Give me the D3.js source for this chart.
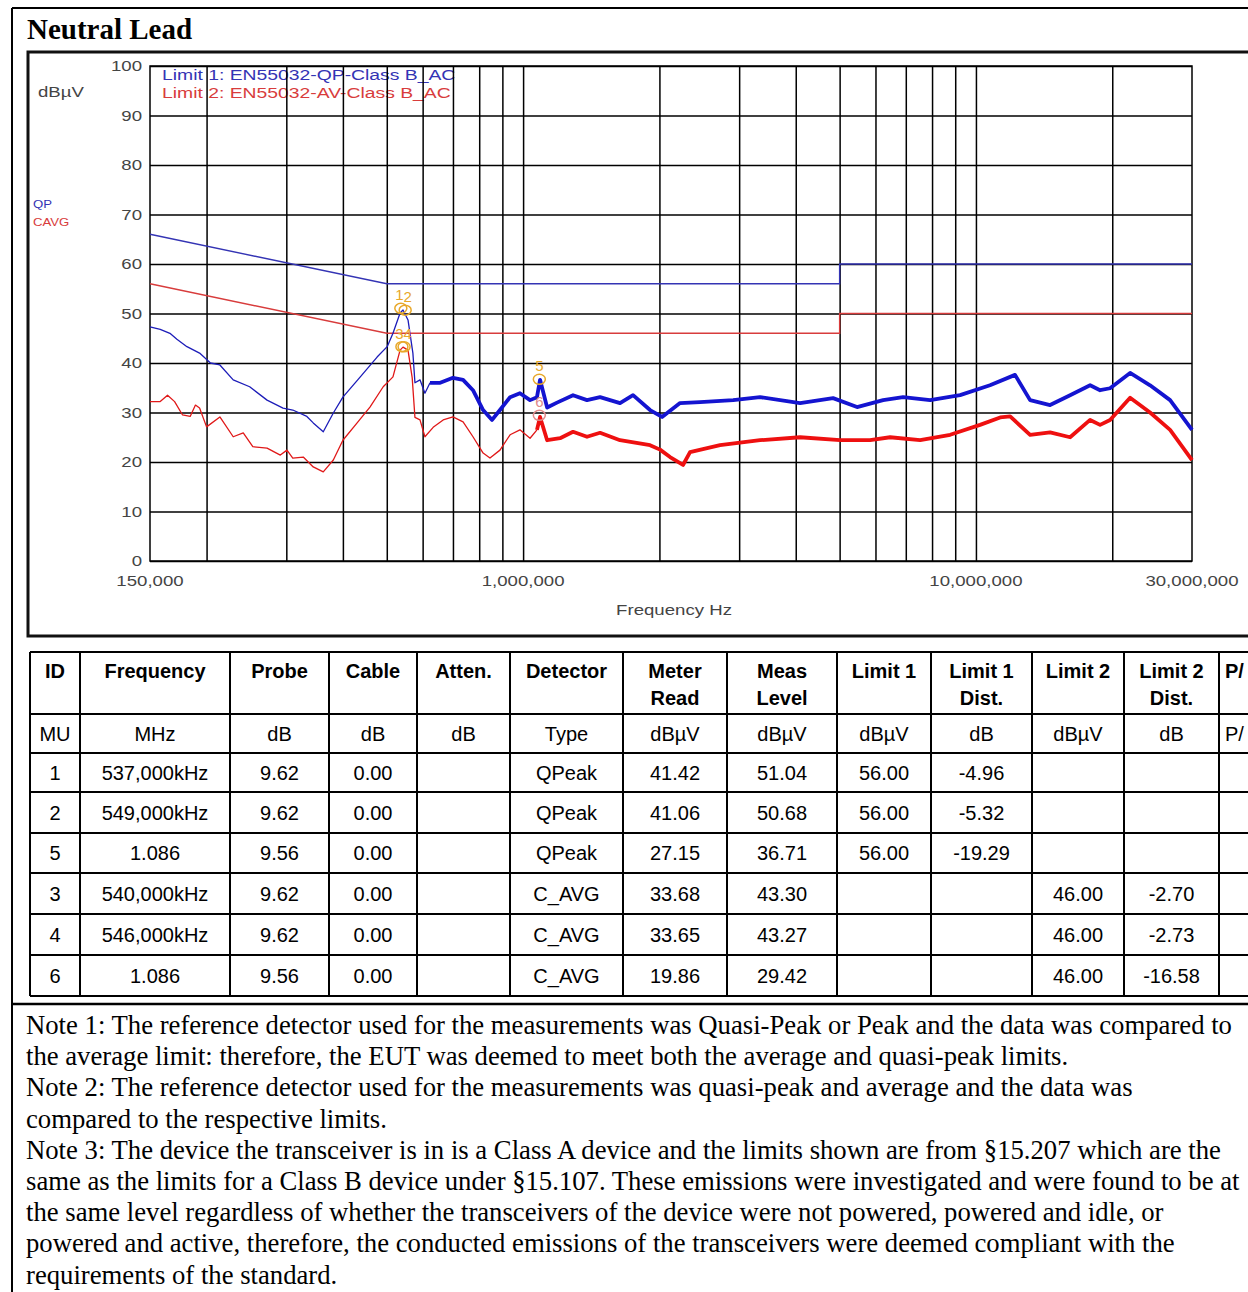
<!DOCTYPE html>
<html>
<head>
<meta charset="utf-8">
<script src="https://cdn.jsdelivr.net/npm/d3@7"></script>
<style>
body{margin:0;background:#fff;}
</style>
</head>
<body>
<div id="chart"></div>
<script>
// QP trace (MHz, dBuV) - thin part and noisy thick part
var qpThin = [[0.150,47.3],[0.158,46.8],[0.166,46.0],[0.172,44.8],[0.181,43.3],[0.193,42.0],[0.204,40.0],[0.214,39.6],[0.229,36.6],[0.249,35.2],
  [0.272,32.5],[0.295,30.9],[0.310,30.5],[0.333,29.2],[0.344,27.9],[0.362,26.1],[0.381,29.9],[0.400,33.1],[0.437,37.2],
  [0.476,41.2],[0.501,43.3],[0.516,46.0],[0.535,50.1],[0.543,50.7],[0.557,48.7],[0.571,42.0],[0.577,36.0],[0.592,36.6],
  [0.607,33.9],[0.623,36.0]];
var qpThick = [[0.623,36.0],[0.656,36.0],[0.700,37.0],[0.737,36.6],[0.775,34.5],[0.816,30.5],[0.854,28.5],[0.889,30.5],
  [0.936,33.1],[0.984,33.9],[1.036,32.5],[1.073,33.1],[1.090,36.6],[1.130,31.0],[1.188,32.0],[1.289,33.5],[1.384,32.5],
  [1.479,33.1],[1.637,31.9],[1.749,33.5],[1.907,30.5],[2.027,29.1],[2.221,31.9],[2.459,32.1],[2.910,32.5],[3.336,33.1],
  [4.089,31.9],[4.836,32.9],[5.463,31.1],[6.237,32.5],[6.905,33.1],[7.922,32.5],[9.225,33.5],[10.74,35.5],[12.20,37.6],
  [13.17,32.5],[14.58,31.5],[16.14,33.5],[17.87,35.5],[18.80,34.5],[19.78,34.9],[21.90,38.0],[24.24,35.5],[26.84,32.5],
  [30.0,26.5]];
// CAVG trace
var avThin = [[0.150,32.2],[0.158,32.2],[0.164,33.5],[0.170,32.2],[0.177,29.5],[0.184,29.2],[0.189,31.5],[0.193,30.9],
  [0.200,27.1],[0.214,29.1],[0.229,25.1],[0.241,25.9],[0.253,23.1],[0.272,22.8],[0.291,21.4],[0.301,22.4],[0.310,20.8],
  [0.327,21.0],[0.344,19.0],[0.362,18.0],[0.381,20.4],[0.400,24.4],[0.430,27.9],[0.459,31.1],[0.491,35.2],[0.516,37.2],
  [0.535,42.6],[0.543,43.2],[0.557,42.6],[0.569,37.0],[0.577,29.0],[0.592,28.5],[0.607,25.1],[0.633,27.0],[0.666,28.5],
  [0.700,29.1],[0.737,28.1],[0.775,25.1],[0.816,21.8],[0.845,20.8],[0.889,22.4],[0.936,25.5],[0.984,26.5],[1.036,24.8],
  [1.073,26.5]];
var avThick = [[1.073,26.5],[1.090,29.1],[1.130,24.4],[1.207,24.8],[1.289,26.1],[1.384,25.1],[1.479,25.9],[1.637,24.4],
  [1.907,23.4],[2.006,22.5],[2.111,21.0],[2.255,19.4],[2.337,22.0],[2.722,23.4],[3.336,24.4],[4.089,25.0],[5.012,24.4],
  [5.836,24.4],[6.463,25.0],[7.529,24.4],[8.772,25.5],[10.21,27.5],[11.31,29.0],[11.90,29.2],[13.17,25.5],[14.58,26.0],
  [16.14,25.0],[17.87,28.5],[18.80,27.5],[19.78,28.5],[21.90,33.0],[24.24,30.0],[26.84,26.5],[30.0,20.4]];

// limits
var limitQP = [[0.15,66],[0.5,56],[5,56],[5,60],[30,60]];
var limitAV = [[0.15,56],[0.5,46],[5,46],[5,50],[30,50]];

// markers
var markerIds = ["1","2","3","4","5","6"];
var markerFreq = [0.537,0.549,0.540,0.546,1.086,1.086];
var markerLevel = [51.04,50.68,43.30,43.27,36.71,29.42];

// axes
var yTicks = [0,10,20,30,40,50,60,70,80,90,100];
var xGrid = [0.2,0.3,0.4,0.5,0.6,0.7,0.8,0.9,1,2,3,4,5,6,7,8,9,10,20];
var xLabels = [[0.15,"150,000"],[1,"1,000,000"],[10,"10,000,000"],[30,"30,000,000"]];

// table
var tableHeader = [["ID"],["Frequency"],["Probe"],["Cable"],["Atten."],["Detector"],["Meter","Read"],["Meas","Level"],
  ["Limit 1"],["Limit 1","Dist."],["Limit 2"],["Limit 2","Dist."],["P/"]];
var tableUnits = ["MU","MHz","dB","dB","dB","Type","dBµV","dBµV","dBµV","dB","dBµV","dB","P/"];
var tableRows = [
  ["1","537,000kHz","9.62","0.00","","QPeak","41.42","51.04","56.00","-4.96","","",""],
  ["2","549,000kHz","9.62","0.00","","QPeak","41.06","50.68","56.00","-5.32","","",""],
  ["5","1.086","9.56","0.00","","QPeak","27.15","36.71","56.00","-19.29","","",""],
  ["3","540,000kHz","9.62","0.00","","C_AVG","33.68","43.30","","","46.00","-2.70",""],
  ["4","546,000kHz","9.62","0.00","","C_AVG","33.65","43.27","","","46.00","-2.73",""],
  ["6","1.086","9.56","0.00","","C_AVG","19.86","29.42","","","46.00","-16.58",""]
];

var notes = [
  "Note 1: The reference detector used for the measurements was Quasi-Peak or Peak and the data was compared to",
  "the average limit: therefore, the EUT was deemed to meet both the average and quasi-peak limits.",
  "Note 2: The reference detector used for the measurements was quasi-peak and average and the data was",
  "compared to the respective limits.",
  "Note 3: The device the transceiver is in is a Class A device and the limits shown are from §15.207 which are the",
  "same as the limits for a Class B device under §15.107. These emissions were investigated and were found to be at",
  "the same level regardless of whether the transceivers of the device were not powered, powered and idle, or",
  "powered and active, therefore, the conducted emissions of the transceivers were deemed compliant with the",
  "requirements of the standard."
];

var W = 1248, H = 1292;
var PL = 150, PR = 1192, PT = 66, PB = 561;
var SANS = "Arial, 'Liberation Sans', sans-serif";
var SERIF = "'Times New Roman', 'Liberation Serif', serif";
var STRETCH = 1.33;   // chart text in the reference is stretched wide

var svg = d3.select("#chart").append("svg")
  .attr("width", W).attr("height", H)
  .style("display","block");

// stretched chart label
function chartText(px, py, anchor, size, col, txt, sx){
  return svg.append("text")
    .attr("transform","translate("+px+","+py+") scale("+(sx||STRETCH)+",1)")
    .attr("text-anchor",anchor)
    .style("font-family",SANS).style("font-size",size+"px")
    .attr("fill",col).text(txt);
}

// page borders
svg.append("line").attr("x1",12).attr("x2",12).attr("y1",8).attr("y2",H).attr("stroke","#000").attr("stroke-width",2);
svg.append("line").attr("x1",12).attr("x2",W).attr("y1",8).attr("y2",8).attr("stroke","#000").attr("stroke-width",2);
svg.append("line").attr("x1",12).attr("x2",W).attr("y1",1004).attr("y2",1004).attr("stroke","#000").attr("stroke-width",2.5);

// title
svg.append("text").attr("x",27).attr("y",39)
  .style("font-family",SERIF).style("font-weight","bold").style("font-size","29px")
  .text("Neutral Lead");

// chart frame
svg.append("rect").attr("x",28).attr("y",52).attr("width",W).attr("height",584)
  .attr("fill","none").attr("stroke","#111").attr("stroke-width",3);

var x = d3.scaleLog().domain([0.15,30]).range([PL,PR]);
var y = d3.scaleLinear().domain([0,100]).range([PB,PT]);

// legend text (sits behind grid)
chartText(162, 80, "start", 15, "#3434b4", "Limit 1: EN55032-QP-Class B_AC", 1.29);
chartText(162, 98, "start", 15, "#d83c3c", "Limit 2: EN55032-AV-Class B_AC", 1.29);

// gridlines
svg.append("g").attr("transform","translate(0,"+PB+")")
  .call(d3.axisBottom(x).tickValues(xGrid).tickSize(-(PB-PT)).tickFormat(""))
  .call(function(g){ g.select(".domain").remove(); g.selectAll("line").attr("stroke","#000").attr("stroke-width",1.5); });
svg.append("g").attr("transform","translate("+PL+",0)")
  .call(d3.axisLeft(y).tickValues(yTicks).tickSize(-(PR-PL)).tickFormat(""))
  .call(function(g){ g.select(".domain").remove(); g.selectAll("line").attr("stroke","#000").attr("stroke-width",1.5); });
svg.append("rect").attr("x",PL).attr("y",PT).attr("width",PR-PL).attr("height",PB-PT)
  .attr("fill","none").attr("stroke","#000").attr("stroke-width",1.5);

// y tick labels
yTicks.forEach(function(d){ chartText(142, y(d)+5, "end", 14, "#444", d); });
// x tick labels
xLabels.forEach(function(d){ chartText(x(d[0]), 586, "middle", 14, "#444", d[1]); });
chartText(674, 615, "middle", 14, "#444", "Frequency Hz");

chartText(38, 97, "start", 14, "#444", "dBµV");
chartText(33, 208, "start", 11, "#3434b4", "QP", 1.2);
chartText(33, 226, "start", 11, "#d83c3c", "CAVG", 1.2);

var line = d3.line().x(function(d){return x(d[0]);}).y(function(d){return y(d[1]);});

// limit lines
svg.append("path").datum(limitQP).attr("d",line).attr("fill","none").attr("stroke","#3434b4").attr("stroke-width",1.4);
svg.append("path").datum(limitAV).attr("d",line).attr("fill","none").attr("stroke","#d83c3c").attr("stroke-width",1.4);

// traces
svg.append("path").datum(avThin).attr("d",line).attr("fill","none").attr("stroke","#e01818").attr("stroke-width",1.3).attr("stroke-linejoin","round");
svg.append("path").datum(avThick).attr("d",line).attr("fill","none").attr("stroke","#ee1010").attr("stroke-width",3.8).attr("stroke-linejoin","round");
svg.append("path").datum(qpThin).attr("d",line).attr("fill","none").attr("stroke","#1c1cb8").attr("stroke-width",1.3).attr("stroke-linejoin","round");
svg.append("path").datum(qpThick).attr("d",line).attr("fill","none").attr("stroke","#1414d0").attr("stroke-width",3.8).attr("stroke-linejoin","round");

// markers: neighbouring ids are set side by side like the reference "12"
markerIds.forEach(function(id,i){
  var mx = x(markerFreq[i]), my = y(markerLevel[i]);
  var col = id==="6" ? "#e08a8a" : "#e8a82a";
  svg.append("ellipse").attr("cx",mx).attr("cy",my).attr("rx",6).attr("ry",5)
    .attr("fill","none").attr("stroke",col).attr("stroke-width",1.5);
  var anchor = "middle", lx = mx;
  if(id==="1" || id==="3"){ anchor = "end"; lx = 403.5; }
  if(id==="2" || id==="4"){ anchor = "start"; lx = 403.5; }
  svg.append("text").attr("x",lx).attr("y",my-8).attr("text-anchor",anchor)
    .style("font-family",SANS).style("font-size","15px").attr("fill",col).text(id);
});

// table
var colX = [30,80,230,329,417,510,623,727,837,931,1032,1124,1219,1320];
var rowY = [652,714,753,792,833,873,914,955,996];
var tg = svg.append("g");
rowY.forEach(function(ry){
  tg.append("line").attr("x1",30).attr("x2",W).attr("y1",ry).attr("y2",ry).attr("stroke","#000").attr("stroke-width",2);
});
colX.forEach(function(cx){
  tg.append("line").attr("x1",cx).attr("x2",cx).attr("y1",652).attr("y2",996).attr("stroke","#000").attr("stroke-width",2);
});
tableHeader.forEach(function(h,i){
  var cx = (colX[i]+colX[i+1])/2;
  if(i===12) cx = colX[i]+6;
  h.forEach(function(t,k){
    tg.append("text").attr("x",cx).attr("y",678+k*27)
      .attr("text-anchor", i===12 ? "start" : "middle")
      .style("font-family",SANS).style("font-weight","bold").style("font-size","20px").text(t);
  });
});
tableUnits.forEach(function(t,i){
  var cx = (colX[i]+colX[i+1])/2;
  if(i===12) cx = colX[i]+6;
  tg.append("text").attr("x",cx).attr("y",741).attr("text-anchor", i===12 ? "start" : "middle")
    .style("font-family",SANS).style("font-size","20px").text(t);
});
tableRows.forEach(function(r,j){
  r.forEach(function(t,i){
    if(!t) return;
    tg.append("text").attr("x",(colX[i]+colX[i+1])/2).attr("y",(rowY[j+2]+rowY[j+3])/2+7)
      .attr("text-anchor","middle").style("font-family",SANS).style("font-size","20px").text(t);
  });
});

// notes
svg.selectAll(".note").data(notes).enter().append("text")
  .attr("x",26).attr("y",function(d,i){return 1034+i*31.2;})
  .style("font-family",SERIF).style("font-size","26.7px").text(function(d){return d;});
</script>
</body>
</html>
